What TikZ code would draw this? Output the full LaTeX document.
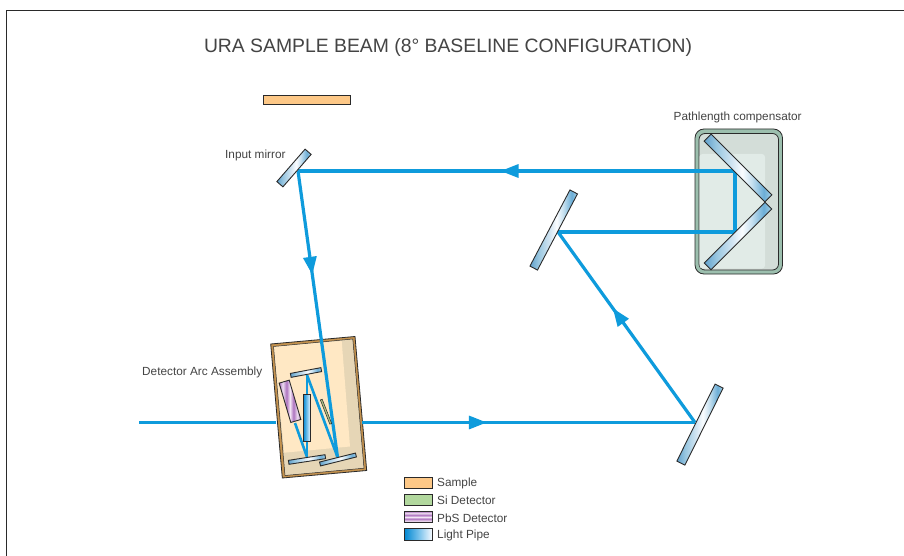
\documentclass[tikz,border=0pt]{standalone}
\usepackage{fontspec}
\setmainfont{Liberation Sans}
\usetikzlibrary{arrows.meta,decorations.markings}
\definecolor{beamc}{HTML}{0E9BDC}
\definecolor{txt}{HTML}{444444}
\definecolor{edge}{HTML}{2A2A2A}
\definecolor{samplec}{HTML}{FDC887}
\definecolor{sidetc}{HTML}{B2D89E}
\definecolor{rimc}{HTML}{9CBFAE}
\definecolor{compc}{HTML}{D3DDD8}
\definecolor{panelc}{HTML}{E1EBE7}
\definecolor{tanc}{HTML}{C4924E}
\definecolor{shadowc}{HTML}{E6D6B6}
\definecolor{creamc}{HTML}{FFE8C4}
\definecolor{sismall}{HTML}{AABE82}
\pgfdeclarehorizontalshading{mirrorsh}{100bp}{
  rgb(0bp)=(0.38,0.63,0.80);
  rgb(25bp)=(0.38,0.63,0.80);
  rgb(34bp)=(0.60,0.78,0.88);
  rgb(46bp)=(0.83,0.90,0.95);
  rgb(53bp)=(0.98,0.99,1);
  rgb(60bp)=(0.78,0.88,0.94);
  rgb(69bp)=(0.42,0.68,0.84);
  rgb(75bp)=(0.66,0.82,0.90);
  rgb(100bp)=(0.66,0.82,0.90)}
\pgfdeclarehorizontalshading{pbssh}{100bp}{
  rgb(0bp)=(0.66,0.42,0.74);
  rgb(25bp)=(0.66,0.42,0.74);
  rgb(33bp)=(0.93,0.87,0.94);
  rgb(42bp)=(0.68,0.45,0.75);
  rgb(50bp)=(0.95,0.90,0.96);
  rgb(58bp)=(0.68,0.45,0.75);
  rgb(67bp)=(0.93,0.87,0.94);
  rgb(75bp)=(0.66,0.42,0.74);
  rgb(100bp)=(0.66,0.42,0.74)}
\pgfdeclarehorizontalshading{pipesh}{100bp}{
  rgb(0bp)=(0,0.53,0.82);
  rgb(25bp)=(0,0.53,0.82);
  rgb(50bp)=(0.45,0.75,0.92);
  rgb(75bp)=(0.97,0.98,1);
  rgb(100bp)=(0.97,0.98,1)}
\tikzset{
  x=1pt,y=1pt,
  beam/.style={draw=beamc,line width=3.2pt,line join=miter},
  thinbeam/.style={draw=beamc,line width=2.6pt},
  beamtip/.style={postaction={decorate,decoration={markings,mark=at position #1 with {\arrow{Triangle[length=18pt,width=13pt,color=beamc]}}}}},
  opt/.style={draw=edge,line width=0.9pt,inner sep=0pt,outer sep=0pt},
  mirr/.style={opt,shading=mirrorsh},
  pbs/.style={opt,shading=pbssh},
  pipe/.style={opt,shading=pipesh},
  lab/.style={text=txt,font=\fontsize{11.8}{14}\selectfont,inner sep=0pt},
  swatch/.style={draw=edge,line width=1pt,minimum width=28pt,inner sep=0pt,outer sep=0pt},
}
\begin{document}
\begin{tikzpicture}
\useasboundingbox (0,-556) rectangle (904,0);
\fill[white] (0,-556) rectangle (904,0);
\coordinate (fa) at (6.5,-556); \coordinate (fb) at (6.5,-10.5); \coordinate (fc) at (904,-10.5);
\draw[edge,line width=1.5pt] (fa) -- (fb) -- (fc);

\node[text=txt,font=\fontsize{19.35}{22}\selectfont,inner sep=0pt] (title) at (448,-47.5) {URA SAMPLE BEAM (8° BASELINE CONFIGURATION)};

% sample
\node[opt,fill=samplec,minimum width=87pt,minimum height=9pt] (sample) at (306.5,-99.5) {};

% compensator housing
\draw[draw=edge,fill=rimc,line width=0.8pt,rounded corners=9pt] (695,-129) rectangle (782.5,-274);
\draw[draw=edge,fill=compc,line width=0.8pt,rounded corners=6pt] (699,-133.5) rectangle (778.5,-270);
\fill[panelc,rounded corners=3pt] (699.5,-154) rectangle (765,-268.5);

% detector assembly housing
\coordinate (a1) at (270.7,-344); \coordinate (a2) at (355,-336.5); \coordinate (a3) at (366.7,-470.5); \coordinate (a4) at (282.3,-478);
\fill[tanc] (a1) -- (a2) -- (a3) -- (a4) -- cycle;
\draw[edge,line width=0.8pt] (a1) -- (a2) -- (a3) -- (a4) -- cycle;
\fill[shadowc] (273.5,-346.5) -- (352.8,-339) -- (364,-468.2) -- (285,-475.5) -- cycle;
\fill[creamc] (273.5,-346.5) -- (341.7,-341) -- (350,-446.5) -- (284.3,-452.7) -- cycle;
\draw[edge,line width=0.5pt] (273.5,-346.5) -- (352.8,-339) -- (364,-468.2) -- (285,-475.5) -- cycle;

% beams
\coordinate (inL) at (139,-422.5);
\coordinate (asL) at (276,-422.5);
\coordinate (asR) at (362,-422.5);
\coordinate (hitA) at (695,-422.5);
\coordinate (hitB) at (558,-232);
\coordinate (pc1) at (735,-232);
\coordinate (pc2) at (735,-171);
\coordinate (hitC) at (298,-171);
\coordinate (hitD) at (337.5,-457);
\coordinate (hitE) at (307,-375);
\coordinate (hitF) at (307,-457);
\coordinate (hitG) at (295,-423);

\draw[beam] (inL) -- (asL);
\draw[beam,beamtip=0.375] (asR) -- (hitA);
\draw[beam,beamtip=0.6] (hitA) -- (hitB);
\draw[beam,beamtip=0.70] (hitB) -- (pc1) -- (pc2) -- (hitC);
\draw[beam,beamtip=0.363] (hitC) -- (hitD);
\draw[thinbeam] (hitD) -- (hitE);
\draw[thinbeam] (hitE) -- (hitF);
\draw[thinbeam] (hitF) -- (hitG);

% compensator mirrors
\node[mirr,minimum width=86pt,minimum height=9.5pt,rotate=45] (compB) at (738,-236) {};
\node[mirr,minimum width=86pt,minimum height=10pt,rotate=-45] (compA) at (738,-168) {};

% mirrors
\node[mirr,minimum width=43pt,minimum height=8pt,rotate=49] (inputm) at (294,-168) {};
\node[mirr,minimum width=86pt,minimum height=8.5pt,rotate=62.3] (midm) at (553.7,-230) {};
\node[mirr,minimum width=86pt,minimum height=9pt,rotate=63.6] (lowm) at (700,-424.6) {};

% assembly contents
\node[mirr,minimum width=31pt,minimum height=4pt,rotate=10.7] (am1) at (306,-372.5) {};
\node[mirr,minimum width=37pt,minimum height=4pt,rotate=8.8] (am2) at (307,-459.5) {};
\node[mirr,minimum width=37pt,minimum height=4pt,rotate=14] (am3) at (338,-459.5) {};
\node[pbs,minimum width=41pt,minimum height=10.5pt,rotate=106.5] (pbsdet) at (290,-401.3) {};
\node[pipe,minimum width=47pt,minimum height=7.5pt,rotate=-90] (lpipe) at (306.8,-417.5) {};
\node[opt,fill=sismall,line width=0.5pt,minimum width=26pt,minimum height=2pt,rotate=111.3] (sidetm) at (326,-411.7) {};

% labels
\node[lab,anchor=west] (l1) at (673.5,-117) {Pathlength compensator};
\node[lab,anchor=west] (l2) at (225,-155.5) {Input mirror};
\node[lab,anchor=west] (l3) at (142,-372) {Detector Arc Assembly};

% legend
\node[swatch,fill=samplec,minimum height=11pt] (k1) at (418.2,-483) {};
\node[swatch,fill=sidetc,minimum height=10.5pt] (k2) at (418.2,-500) {};
\node[swatch,shading=pbssh,shading angle=90,minimum height=11.5pt] (k3) at (418.2,-517) {};
\node[swatch,shading=pipesh,minimum height=12pt] (k4) at (418.2,-534.5) {};
\node[lab,anchor=west] (t1) at (437,-483) {Sample};
\node[lab,anchor=west] (t2) at (437,-500.5) {Si Detector};
\node[lab,anchor=west] (t3) at (437,-518) {PbS Detector};
\node[lab,anchor=west] (t4) at (437,-535.5) {Light Pipe};
\end{tikzpicture}
\end{document}
